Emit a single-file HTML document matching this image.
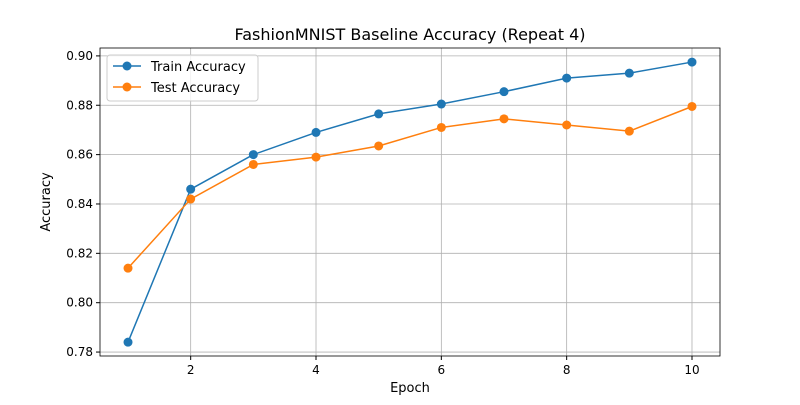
<!DOCTYPE html>
<html><head><meta charset="utf-8"><style>
body{margin:0;background:#fff;font-family:"Liberation Sans","DejaVu Sans",sans-serif}
</style></head><body>
<svg id="chart" width="800" height="400" xmlns="http://www.w3.org/2000/svg" font-family="DejaVu Sans, Liberation Sans, sans-serif">
<rect width="800" height="400" fill="#fff"/>
<text x="410" y="40" text-anchor="middle" font-size="16">FashionMNIST Baseline Accuracy (Repeat 4)</text>
<g id="grid"></g><g id="axes"></g><g id="series"></g>
<text x="410" y="392" text-anchor="middle" font-size="13">Epoch</text>
<text transform="translate(50,202) rotate(-90)" text-anchor="middle" font-size="13">Accuracy</text>
<g>
<rect x="107" y="55" width="151" height="46" fill="#fff" fill-opacity="0.8" stroke="#ccc" rx="3"/>
<line x1="113" y1="66" x2="141" y2="66" stroke="#1f77b4" stroke-width="1.5"/><circle cx="127" cy="66" r="4.5" fill="#1f77b4"/>
<text x="151" y="71" font-size="13">Train Accuracy</text>
<line x1="113" y1="87" x2="141" y2="87" stroke="#ff7f0e" stroke-width="1.5"/><circle cx="127" cy="87" r="4.5" fill="#ff7f0e"/>
<text x="151" y="92" font-size="13">Test Accuracy</text>
</g>
</svg>
<script>
const epochs=[1,2,3,4,5,6,7,8,9,10];
const trainAcc=[0.784,0.846,0.860,0.869,0.8765,0.8805,0.8855,0.891,0.893,0.8975];
const testAcc=[0.814,0.842,0.856,0.859,0.8635,0.871,0.8745,0.872,0.8695,0.8795];
const xTicks=[2,4,6,8,10];
const yTicks=[0.78,0.80,0.82,0.84,0.86,0.88,0.90];
const L=100,R=720,T=48,B=356,xmin=0.553,xmax=10.447,ymin=0.7784,ymax=0.9032;
const sx=v=>L+(v-xmin)/(xmax-xmin)*(R-L);
const sy=v=>B-(v-ymin)/(ymax-ymin)*(B-T);
const NS="http://www.w3.org/2000/svg";
function mk(p,t,a){const e=document.createElementNS(NS,t);for(const k in a)e.setAttribute(k,a[k]);p.appendChild(e);return e;}
const grid=document.getElementById('grid'),axes=document.getElementById('axes'),ser=document.getElementById('series');
xTicks.forEach(v=>{const x=sx(v);
const g=mk(grid,'line',{x1:x,x2:x,y1:T,y2:B,stroke:'#b0b0b0','stroke-width':0.8});

mk(axes,'line',{x1:x,x2:x,y1:B,y2:B+4,stroke:'#000'});
const t=mk(axes,'text',{x:x,y:B+18,'text-anchor':'middle','font-size':12});t.textContent=v;
});
yTicks.forEach(v=>{const y=sy(v);
const g=mk(grid,'line',{x1:L,x2:R,y1:y,y2:y,stroke:'#b0b0b0','stroke-width':0.8});

mk(axes,'line',{x1:L-4,x2:L,y1:y,y2:y,stroke:'#000'});
const t=mk(axes,'text',{x:L-7,y:y+4,'text-anchor':'end','font-size':12});t.textContent=v.toFixed(2);
});
const fr=mk(axes,'rect',{x:L,y:T,width:R-L,height:B-T,fill:'none',stroke:'#000','stroke-width':0.8});

[[trainAcc,'#1f77b4','train'],[testAcc,'#ff7f0e','test']].forEach(([d,c,n])=>{
const pl=mk(ser,'polyline',{points:d.map((v,i)=>sx(epochs[i])+','+sy(v)).join(' '),fill:'none',stroke:c,'stroke-width':1.5});

d.forEach((v,i)=>{const p=mk(ser,'circle',{cx:sx(epochs[i]),cy:sy(v),r:4.5,fill:c});
});});
</script>
</body></html>
